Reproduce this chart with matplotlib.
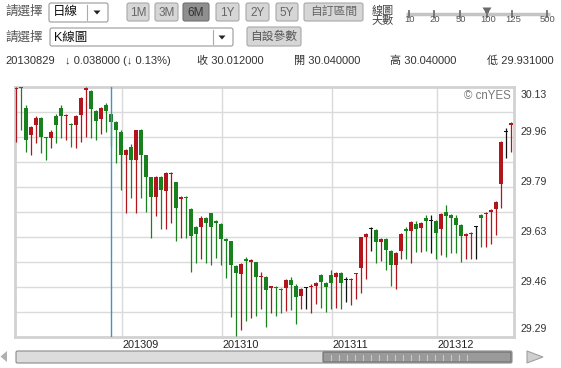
import matplotlib
matplotlib.use('Agg')
import matplotlib.pyplot as plt
from matplotlib.patches import Rectangle, FancyBboxPatch, Polygon
import matplotlib.transforms as mtransforms
import numpy as np

plt.rcParams['font.family'] = ['Liberation Sans', 'Noto Sans CJK TC', 'DejaVu Sans']

# daily K-line, 100 sessions
opens = [30.124, 30.129, 30.061, 29.969, 30.003, 30.025, 29.961, 29.958, 30.031, 30.061,
         30.031, 30.006, 30.003, 30.036, 30.121, 30.118, 30.050, 30.022, 30.070, 30.040,
         30.012, 29.980, 29.900, 29.930, 29.885, 29.986, 29.900, 29.826, 29.762, 29.829,
         29.781, 29.838, 29.810, 29.753, 29.762, 29.720, 29.661, 29.661, 29.691, 29.706,
         29.680, 29.670, 29.620, 29.611, 29.530, 29.501, 29.552, 29.543, 29.541, 29.491,
         29.493, 29.454, 29.459, 29.452, 29.454, 29.480, 29.461, 29.427, 29.456, 29.457,
         29.463, 29.499, 29.473, 29.499, 29.490, 29.504, 29.482, 29.482, 29.501, 29.523,
         29.627, 29.653, 29.650, 29.608, 29.620, 29.580, 29.532, 29.580, 29.651, 29.646,
         29.670, 29.655, 29.689, 29.681, 29.680, 29.653, 29.710, 29.700, 29.691, 29.667,
         29.631, 29.637, 29.661, 29.700, 29.702, 29.709, 29.721, 29.803, 29.979, 30.003]
highs = [30.131, 30.131, 30.070, 30.000, 30.031, 30.028, 29.963, 29.986, 30.038, 30.068,
         30.038, 30.008, 30.036, 30.098, 30.129, 30.121, 30.053, 30.064, 30.075, 30.040,
         30.016, 29.984, 29.922, 29.938, 29.986, 29.988, 29.902, 29.828, 29.832, 29.832,
         29.846, 29.844, 29.812, 29.764, 29.764, 29.723, 29.664, 29.695, 29.693, 29.708,
         29.683, 29.672, 29.622, 29.614, 29.532, 29.539, 29.559, 29.552, 29.543, 29.510,
         29.496, 29.463, 29.462, 29.454, 29.485, 29.491, 29.468, 29.454, 29.458, 29.467,
         29.474, 29.503, 29.476, 29.514, 29.508, 29.508, 29.490, 29.487, 29.506, 29.627,
         29.639, 29.661, 29.653, 29.622, 29.622, 29.583, 29.575, 29.639, 29.659, 29.680,
         29.680, 29.676, 29.700, 29.700, 29.683, 29.706, 29.732, 29.702, 29.700, 29.669,
         29.638, 29.644, 29.663, 29.702, 29.709, 29.720, 29.747, 29.947, 29.991, 30.011]
lows = [29.944, 29.986, 29.913, 29.902, 29.941, 29.907, 29.885, 29.924, 29.941, 29.958,
        29.952, 29.930, 29.926, 29.944, 29.963, 29.958, 29.952, 29.971, 29.980, 29.931,
        29.874, 29.784, 29.706, 29.756, 29.706, 29.756, 29.711, 29.624, 29.695, 29.653,
        29.653, 29.672, 29.613, 29.622, 29.624, 29.508, 29.538, 29.552, 29.538, 29.532,
        29.557, 29.532, 29.487, 29.356, 29.295, 29.314, 29.344, 29.353, 29.359, 29.384,
        29.323, 29.370, 29.359, 29.370, 29.379, 29.381, 29.333, 29.384, 29.384, 29.372,
        29.401, 29.389, 29.373, 29.384, 29.387, 29.383, 29.407, 29.396, 29.417, 29.437,
        29.485, 29.580, 29.538, 29.546, 29.515, 29.462, 29.452, 29.552, 29.552, 29.538,
        29.577, 29.577, 29.579, 29.571, 29.552, 29.564, 29.558, 29.571, 29.571, 29.543,
        29.552, 29.552, 29.552, 29.594, 29.592, 29.603, 29.633, 29.725, 29.891, 29.913]
closes = [30.128, 30.127, 29.952, 29.995, 30.025, 29.961, 29.957, 29.980, 30.003, 30.034,
          30.036, 30.003, 30.031, 30.092, 30.126, 30.056, 30.016, 30.059, 30.050, 30.012,
          29.986, 29.902, 29.919, 29.885, 29.984, 29.902, 29.826, 29.762, 29.829, 29.784,
          29.842, 29.842, 29.723, 29.762, 29.756, 29.631, 29.635, 29.691, 29.674, 29.658,
          29.672, 29.618, 29.613, 29.532, 29.504, 29.536, 29.546, 29.549, 29.492, 29.495,
          29.448, 29.461, 29.454, 29.448, 29.482, 29.465, 29.426, 29.450, 29.456, 29.463,
          29.471, 29.476, 29.457, 29.473, 29.504, 29.470, 29.482, 29.485, 29.504, 29.625,
          29.636, 29.653, 29.608, 29.620, 29.583, 29.532, 29.571, 29.636, 29.648, 29.676,
          29.653, 29.672, 29.681, 29.681, 29.639, 29.702, 29.695, 29.691, 29.667, 29.631,
          29.635, 29.641, 29.661, 29.691, 29.707, 29.717, 29.745, 29.944, 29.979, 30.008]

month_starts = [21, 41, 63, 84]
month_labels = ['201309', '201310', '201311', '201312']
y_labels = ['29.29', '29.46', '29.63', '29.79', '29.96', '30.13']
y_lo, y_hi = 29.29, 30.13
cursor_idx = 19

info_texts = ['20130829', '\u2193 0.038000 (\u2193 0.13%)', '收 30.012000',
              '開 30.040000', '高 30.040000', '低 29.931000']
range_buttons = ['1M', '3M', '6M', '1Y', '2Y', '5Y', '自訂區間']
days_options = ['10', '20', '50', '100', '125', '500']

RED = '#b0161b'
GREEN = '#18801c'
GRID = '#dadada'

W, H = 561, 368
fig = plt.figure(figsize=(W / 100, H / 100), dpi=100)
fig.patch.set_facecolor('white')

# ---- page widgets, drawn in pixel coords ----
ui = fig.add_axes([0, 0, 1, 1], zorder=0)
ui.set_xlim(0, W)
ui.set_ylim(H, 0)
ui.axis('off')

def box(x0, y0, x1, y1, face, edge='#9a9a9a', r=2):
    ui.add_patch(FancyBboxPatch((x0, y0), x1 - x0, y1 - y0,
                                boxstyle='round,pad=0,rounding_size=%g' % r,
                                fc=face, ec=edge, lw=0.8))

def down_arrow(xc, yc):
    ui.add_patch(Polygon([(xc - 3.5, yc - 2), (xc + 3.5, yc - 2), (xc, yc + 2)],
                         closed=True, fc='#222', ec='none'))

lab = dict(fontsize=9, color='#555', va='center', ha='left')
ui.text(5, 12, '請選擇', **lab)
ui.text(5, 38, '請選擇', **lab)

box(49, 3, 108, 22, 'white')
ui.plot([87, 87], [5, 20], color='#aaa', lw=0.8)
ui.text(53, 12.5, '日線', fontsize=9, color='#111', va='center')
down_arrow(97, 12.5)

box(50, 28, 233, 46, 'white')
ui.plot([213, 213], [30, 44], color='#aaa', lw=0.8)
ui.text(54, 37.5, 'K線圖', fontsize=9, color='#111', va='center')
down_arrow(222, 37.5)

btn_x = [(127, 149), (155, 178), (183, 209), (216, 239), (246, 269), (276, 298), (304, 363)]
for name, (x0, x1) in zip(range_buttons, btn_x):
    pressed = name == '6M'
    box(x0, 3, x1, 21, '#8f8f8f' if pressed else '#d6d6d6',
        edge='#707070' if pressed else '#a8a8a8')
    ui.text((x0 + x1) / 2, 12.5, name, fontsize=8.5, ha='center', va='center',
            color='#333' if pressed else '#666')

box(247, 27, 301, 46, '#d6d6d6', edge='#a8a8a8')
ui.text(274, 37, '自設參數', fontsize=8.5, ha='center', va='center', color='#555')

ui.text(372, 11, '線圖', fontsize=8, color='#444', va='center')
ui.text(372, 20, '天數', fontsize=8, color='#444', va='center')
slider_x = [409, 434, 460, 487, 512, 547]
ui.plot([406, 550], [13.5, 13.5], color='#c4c4c4', lw=2.5, solid_capstyle='butt')
for sx, s in zip(slider_x, days_options):
    ui.plot([sx, sx], [11, 16.5], color='#707070', lw=1.3)
    ui.text(sx + 1, 19, s, fontsize=6.8, color='#555', ha='center', va='center')
hx = slider_x[days_options.index('100')]
ui.add_patch(Polygon([(hx - 4.5, 7.5), (hx + 4.5, 7.5), (hx + 2, 11.5), (hx + 2, 16.5),
                      (hx - 2, 16.5), (hx - 2, 11.5)], closed=True, fc='#6a6a6a', ec='none'))

info_x = [5, 65, 197, 294, 390, 487]
for tx, t in zip(info_x, info_texts):
    ui.text(tx, 60.5, t, fontsize=8, color='#333', va='center', ha='left')

# scrollbar under the chart
ui.add_patch(Polygon([(0.5, 356.5), (7, 351), (7, 362)], closed=True, fc='#b0b0b0', ec='none'))
box(16, 351, 512, 363, '#dcdcdc', edge='#8a8a8a', r=1.5)
box(323, 352, 511, 362, '#9a9a9a', edge='#6e6e6e', r=1)
for gx in np.arange(331, 470, 8):
    ui.plot([gx, gx], [354.5, 359.5], color='#c8c8c8', lw=0.8)
ui.add_patch(Polygon([(527, 351), (543, 357), (527, 363)], closed=True, fc='#cfcfcf', ec='#a0a0a0', lw=0.8))

# ---- candlestick panel ----
ax = fig.add_axes([15 / W, (H - 337) / H, 499 / W, 250 / H], zorder=2)
ax.set_facecolor('white')

o = np.array(opens)
h = np.array(highs)
l = np.array(lows)
c = np.array(closes)
x = np.arange(len(o))

col = np.where(c > o, RED, np.where(c < o, GREEN, '#111111'))
min_h = 0.0035
body = np.abs(c - o)
body_h = np.maximum(body, min_h)
body_b = np.minimum(o, c) - (body_h - body) / 2

ax.vlines(x, l, h, colors=col, lw=0.9, zorder=3)
ax.bar(x, body_h, bottom=body_b, width=0.76, color=col, linewidth=0, zorder=4)

ax.set_xlim(-0.14, 99.66)
ax.set_ylim(y_lo, y_hi)
ax.set_yticks(np.linspace(y_lo, y_hi, 11))
ax.set_xticks([])
ax.tick_params(axis='y', length=0, labelleft=False)
ax.grid(axis='y', color=GRID, lw=1)
for m in month_starts:
    ax.axvline(m + 0.25, color=GRID, lw=1, zorder=1)
ax.axvline(cursor_idx, color='#4b8fbf', lw=1, zorder=5)

for sp in ax.spines.values():
    sp.set_color('#d2d2d2')
    sp.set_linewidth(2)

tr = mtransforms.blended_transform_factory(ax.transData, ax.transAxes)
for m, t in zip(month_starts, month_labels):
    ax.text(m + 0.45, -0.033, t, transform=tr, fontsize=7.8, color='#222',
            ha='left', va='center')

n_lab = len(y_labels)
for k, t in enumerate(y_labels):
    off = 0.032 if k == 0 else (-0.032 if k == n_lab - 1 else 0.02)
    ax.text(1.013, k / (n_lab - 1) + off, t, transform=ax.transAxes,
            fontsize=7.6, color='#333', ha='left', va='center')

ax.text(0.994, 0.964, '\u00a9 cnYES', transform=ax.transAxes, fontsize=8.3,
        color='#777', ha='right', va='center')

fig.savefig('out.png', dpi=100)
